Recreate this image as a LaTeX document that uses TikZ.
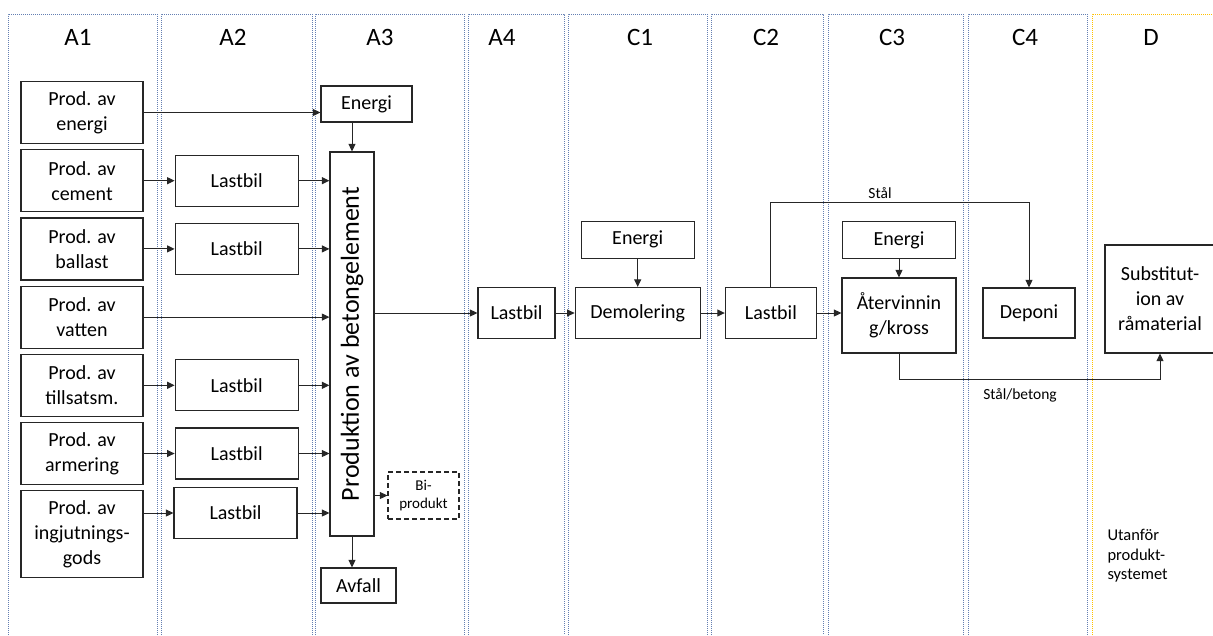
\documentclass[tikz,border=0pt]{standalone}
\usepackage{fontspec}
\setmainfont{Carlito}
\usetikzlibrary{arrows.meta,positioning}
\definecolor{fasline}{RGB}{100,127,178}
\definecolor{dline}{RGB}{255,192,0}

\begin{document}
\begin{tikzpicture}[x=1pt,y=-1pt,>={Triangle[length=7.5pt,width=7pt]},line width=1pt,
  box/.style={draw=black!85,line width=1.2pt,align=center,inner sep=0pt,font=\fontsize{20}{25}\selectfont},
  prodbox/.style={box,minimum width=122pt,minimum height=62pt},
  truck/.style={box,minimum width=123pt,minimum height=51pt},
  colline/.style={draw=fasline,line width=0.9pt,dash pattern=on 1pt off 1pt},
  colhead/.style={inner sep=0pt,font=\fontsize{25}{30}\selectfont},
  small/.style={inner sep=0pt,font=\fontsize{15.5}{19}\selectfont}]

  \useasboundingbox (0,0) rectangle (1213,635);

  % faser
  \draw[colline] (8,635) |- (157,14) -- (157,635);
  \draw[colline] (161,635) |- (312,14) -- (312,635);
  \draw[colline] (315,635) |- (464,14) -- (464,635);
  \draw[colline] (468,635) |- (564,14) -- (564,635);
  \draw[colline] (568,635) |- (707,14) -- (707,635);
  \draw[colline] (711,635) |- (823,14) -- (823,635);
  \draw[colline] (828,635) |- (963,14) -- (963,635);
  \draw[colline] (968,635) |- (1087,14) -- (1087,635);
  \draw[colline,draw=dline] (1092,635) |- (1213,14);

  \node[colhead] (hA1) at (78,37) {A1};
  \node[colhead] (hA2) at (233,37) {A2};
  \node[colhead] (hA3) at (380,37) {A3};
  \node[colhead] (hA4) at (502,37) {A4};
  \node[colhead] (hC1) at (640,37) {C1};
  \node[colhead] (hC2) at (766,37) {C2};
  \node[colhead] (hC3) at (892,37) {C3};
  \node[colhead] (hC4) at (1025,37) {C4};
  \node[colhead] (hD) at (1151,37) {D};

  % A1
  \node[prodbox] (p1) at (82,112.5) {Prod. av\\energi};
  \node[prodbox] (p2) [below=5pt of p1] {Prod. av\\cement};
  \node[prodbox] (p3) [below=5pt of p2] {Prod. av\\ballast};
  \node[prodbox] (p4) [below=5pt of p3] {Prod. av\\vatten};
  \node[prodbox] (p5) [below=5pt of p4] {Prod. av\\tillsatsm.};
  \node[prodbox] (p6) [below=5pt of p5] {Prod. av\\armering};
  \node[prodbox,minimum height=87pt] (p7) [below=5pt of p6] {Prod. av\\ingjutnings-\\gods};

  % A2
  \node[truck] (t1) [right=31pt of p2] {Lastbil};
  \node[truck] (t2) [right=31pt of p3] {Lastbil};
  \node[truck] (t3) [right=31pt of p5] {Lastbil};
  \node[truck] (t4) [right=31pt of p6] {Lastbil};
  \node[truck] (t5) at (235.5,513) {Lastbil};

  % A3
  \node[box,minimum width=91pt,minimum height=36pt] (e3) at (366.5,104) {Energi};
  \node[box,minimum width=44pt,minimum height=384pt,font=\fontsize{26}{30}\selectfont] (prod) at (352,344)
    {\rotatebox{90}{Produktion av betongelement}};
  \node[box,minimum width=75pt,minimum height=35pt] (av) at (358.5,585.5) {Avfall};
  \node[box,dashed,dash pattern=on 5pt off 3pt,minimum width=71pt,minimum height=47pt,
    font=\fontsize{15}{18}\selectfont] (bi) at (423.5,495.5) {Bi-\\produkt};

  % A4 och C
  \node[box,minimum width=77pt,minimum height=51pt] (t6) at (516.5,313) {Lastbil};
  \node[box,minimum width=125pt,minimum height=51pt] (dem) [right=19pt of t6] {Demolering};
  \node[box,minimum width=113pt,minimum height=37pt] (ec1) [above=28pt of dem] {Energi};
  \node[box,minimum width=91pt,minimum height=51pt] (t7) [right=24pt of dem] {Lastbil};
  \node[box,minimum width=114pt,minimum height=75pt] (atv) at (899,315.5) {Återvinnin\\g/kross};
  \node[box,minimum width=113pt,minimum height=37pt] (ec3) [above=18pt of atv] {Energi};
  \node[box,minimum width=92pt,minimum height=50pt] (dep) at (1029,313) {Deponi};

  % D
  \node[box,minimum width=110pt,minimum height=108pt] (sub) at (1160,299) {Substitut-\\ion av\\råmaterial};
  \node[small,anchor=west,align=left,font=\fontsize{16.5}{19.5}\selectfont] (ut) at (1107,556) {Utanför\\produkt-\\systemet};

  \path[->,color=black!85]
    (p1) edge (p1 -| e3.west)
    (p2) edge (t1)
    (p3) edge (t2)
    (p4) edge (p4 -| prod.west)
    (p5) edge (t3)
    (p6) edge (t4)
    (p7.east |- t5) edge (t5)
    (t1) edge (t1 -| prod.west)
    (t2) edge (t2 -| prod.west)
    (t3) edge (t3 -| prod.west)
    (t4) edge (t4 -| prod.west)
    (t5) edge (t5 -| prod.west)
    (e3.south -| prod.north) edge (prod.north)
    (prod.south) edge (prod.south |- av.north)
    (prod.east |- bi) edge (bi)
    (prod.east |- t6) edge (t6)
    (t6) edge (dem)
    (ec1) edge (dem)
    (dem) edge (t7)
    (t7) edge (t7 -| atv.west)
    (ec3) edge (atv);

  \coordinate (stal) at (0,202);
  \draw[->,draw=black!85] (t7.north) -- (t7.north |- stal) -| (dep.north);
  \node[small] (lstal) at (880,193) {Stål};

  \coordinate (rest) at (0,379);
  \draw[->,draw=black!85] (atv.south) -- (atv.south |- rest) -| (sub.south);
  \node[small] (lrest) at (1020,395) {Stål/betong};

\end{tikzpicture}
\end{document}
